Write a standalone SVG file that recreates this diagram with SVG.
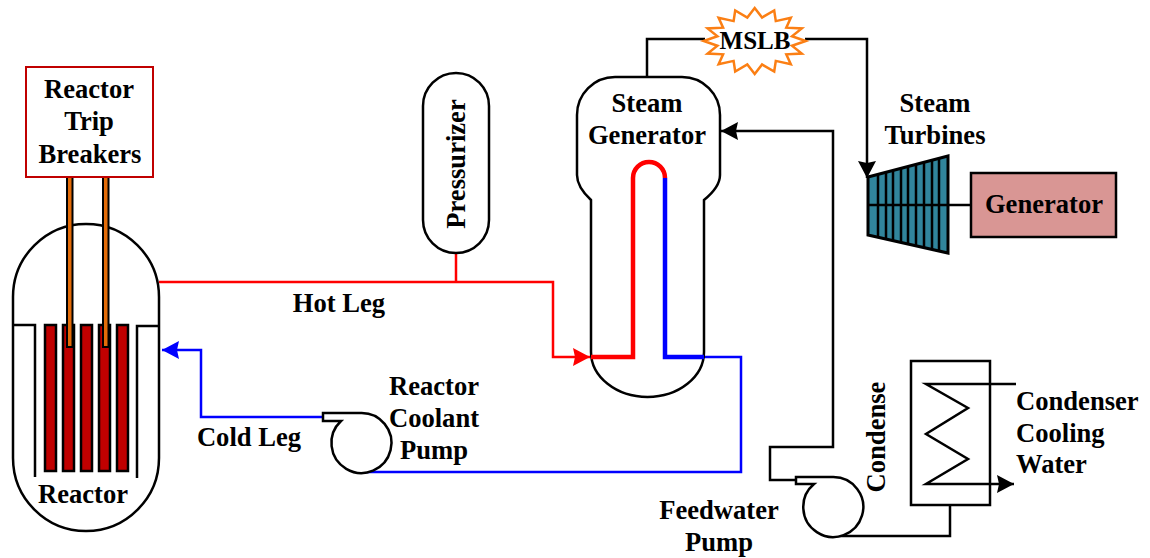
<svg xmlns="http://www.w3.org/2000/svg" width="1150" height="558" viewBox="0 0 1150 558">
<style>
text{font-family:"Liberation Serif","Times New Roman",serif;font-weight:bold;font-size:26.600px;fill:#000;text-anchor:middle}
.st{text-anchor:start}
.o{fill:none;stroke:#000;stroke-width:2.5}
.w{fill:#fff;stroke:#000;stroke-width:2.5}
.k{fill:none;stroke:#000;stroke-width:2.5}
.r{fill:none;stroke:#f00;stroke-width:2.5}
.b{fill:none;stroke:#00f;stroke-width:2.5}
.rod{fill:#c00000;stroke:#000;stroke-width:2.5}
.ctl{fill:#e36c09;stroke:#000;stroke-width:2}
.rib{stroke:#000;stroke-width:2.5}
</style>
<defs>
<marker id="ak" markerUnits="userSpaceOnUse" markerWidth="17" markerHeight="18" refX="17" refY="9" orient="auto"><path d="M0,0L17,9L0,18L2,9Z" fill="#000"/></marker>
<marker id="ar" markerUnits="userSpaceOnUse" markerWidth="17" markerHeight="18" refX="17" refY="9" orient="auto"><path d="M0,0L17,9L0,18L2,9Z" fill="#f00"/></marker>
<marker id="ab" markerUnits="userSpaceOnUse" markerWidth="17" markerHeight="18" refX="17" refY="9" orient="auto"><path d="M0,0L17,9L0,18L2,9Z" fill="#00f"/></marker>
</defs>
<g id="connectors">
<path class="r" d="M159,282H553V357H590" marker-end="url(#ar)"/>
<path class="r" d="M456,253V282"/>
<path class="b" d="M323,417H201V350H162" marker-end="url(#ab)"/>
<path class="b" d="M704,357H741V472H360"/>
<path class="k" d="M647,77V39H705"/>
<path class="k" d="M805,39H867V178" marker-end="url(#ak)"/>
<path class="k" d="M796,480H770V447H833V131H721" marker-end="url(#ak)"/>
<path class="k" d="M833,536H950V505"/>
<path class="k" d="M948,205H971"/>
</g>
<g id="reactor">
<path class="w" d="M13,297A73,73 0 0 1 159,297V458A73,73 0 0 1 13,458Z"/>
<path class="o" d="M13,325H35V477M159,326H137V478"/>
<rect class="rod" x="45" y="325" width="11" height="146"/>
<rect class="rod" x="63" y="325" width="11" height="146"/>
<rect class="rod" x="81" y="325" width="11" height="146"/>
<rect class="rod" x="99" y="325" width="11" height="146"/>
<rect class="rod" x="117" y="325" width="11" height="146"/>
<rect class="ctl" x="67" y="177" width="5.500" height="170"/>
<rect class="ctl" x="103" y="177" width="5.500" height="170"/>
<text x="83" y="503">Reactor</text>
</g>
<g id="breakers">
<rect x="26" y="67" width="127" height="110" fill="#fff" stroke="#c00000" stroke-width="2"/>
<text x="89" y="98">Reactor</text>
<text x="89" y="130">Trip</text>
<text x="90" y="163">Breakers</text>
</g>
<g id="pressurizer">
<rect class="w" x="423" y="73" width="66" height="180" rx="33" ry="33"/>
<text transform="translate(465,164) rotate(-90)">Pressurizer</text>
</g>
<g id="steam-generator">
<path class="w" d="M615,77H682A38,38 0 0 1 720,115V175Q720,187 704,200V352A56.500,45 0 0 1 591,352V200Q577,187 577,175V115A38,38 0 0 1 615,77Z"/>
<path d="M591,357H633V178A16,16 0 0 1 665,178" fill="none" stroke="#f00" stroke-width="4.500"/>
<path d="M665,178V357H704" fill="none" stroke="#00f" stroke-width="4.500"/>
<text x="647" y="112">Steam</text>
<text x="647" y="144">Generator</text>
</g>
<g id="mslb">
<polygon transform="translate(754.700,41)" fill="#fff" stroke="#fb7f14" stroke-width="2.500" points="51,0 37.300,4.700 47.100,12.600 31.600,13.300 36.100,23.300 21.100,19.900 19.500,30.500 7.400,23.500 0,33 -7.400,23.500 -19.500,30.500 -21.100,19.900 -36.100,23.300 -31.600,13.300 -47.100,12.600 -37.300,4.700 -51,0 -37.300,-4.700 -47.100,-12.600 -31.600,-13.300 -36.100,-23.300 -21.100,-19.900 -19.500,-30.500 -7.400,-23.500 0,-33 7.400,-23.500 19.500,-30.500 21.100,-19.900 36.100,-23.300 31.600,-13.300 47.100,-12.600 37.300,-4.700"/>
<text x="755" y="49" style="font-size:25px">MSLB</text>
</g>
<g id="turbine">
<polygon points="868,177 948,156 948,253 868,235" fill="#31859c" stroke="#000" stroke-width="3"/>
<path class="rib" d="M878,175V237M886,173V239M893,171V240M901,169V242M908,167V244M916,165V246M924,163V247M932,160V249M939,158V251M868,205H948"/>
<text x="935" y="112">Steam</text>
<text x="935" y="144">Turbines</text>
</g>
<g id="generator">
<rect x="971" y="173" width="145" height="64" fill="#d99694" stroke="#000" stroke-width="2.500"/>
<text x="1044" y="213">Generator</text>
</g>
<g id="coolant-pump">
<path class="w" d="M323,413H360A30,30 0 1 1 341,421H323Z"/>
<text x="434" y="395">Reactor</text>
<text x="434" y="427">Coolant</text>
<text x="434" y="459">Pump</text>
</g>
<g id="feedwater-pump">
<path class="w" d="M796,477H833A30,30 0 1 1 814,484H796Z"/>
<text x="719" y="519">Feedwater</text>
<text x="719" y="551">Pump</text>
</g>
<g id="condenser">
<rect x="911" y="361" width="79" height="144" fill="none" stroke="#000" stroke-width="2.500"/>
<path class="k" d="M1016,384H926L968,408L926,434L968,459L926,484H1014" marker-end="url(#ak)"/>
<text transform="translate(885,437) rotate(-90)">Condense</text>
<text class="st" x="1016" y="410">Condenser</text>
<text class="st" x="1016" y="442">Cooling</text>
<text class="st" x="1016" y="473">Water</text>
</g>
<g id="labels">
<text x="339" y="312">Hot Leg</text>
<text x="249" y="446">Cold Leg</text>
</g>
</svg>
